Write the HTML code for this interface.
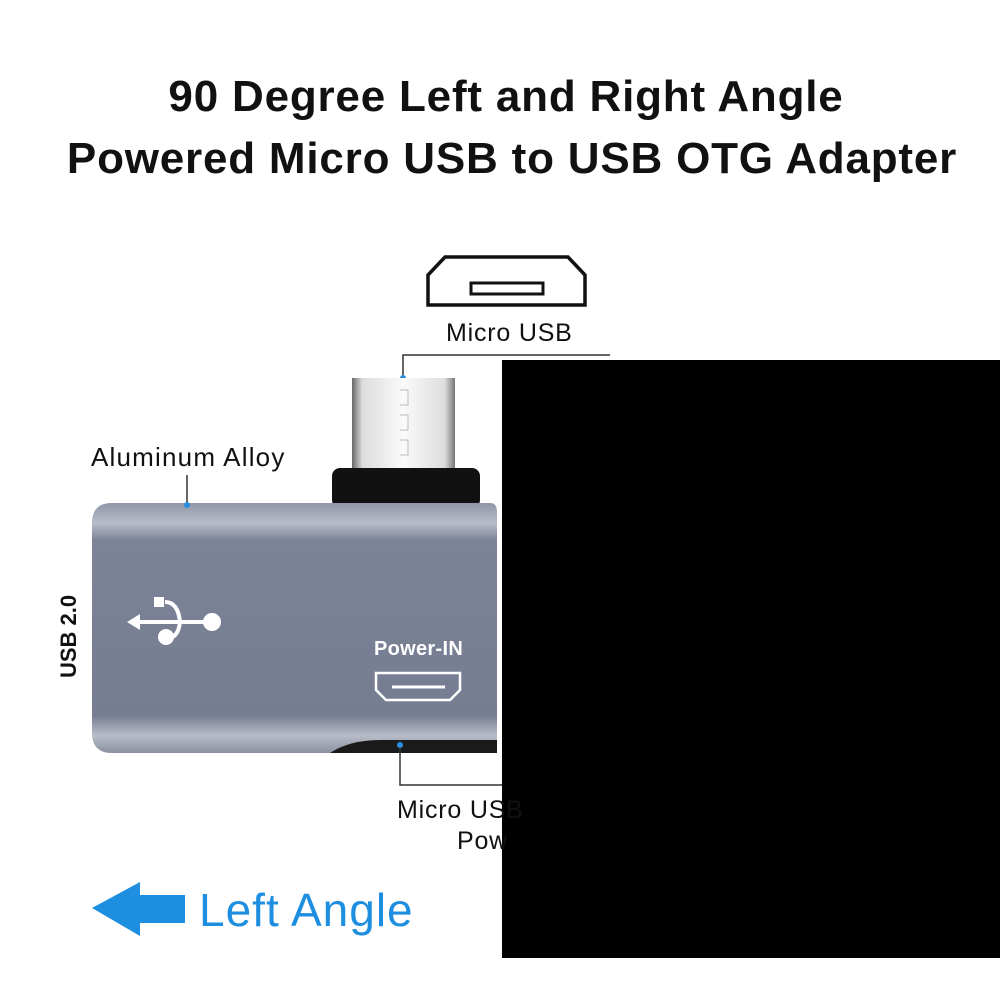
<!DOCTYPE html>
<html><head><style>
body{margin:0;width:1000px;height:1000px;background:#fff;position:relative;overflow:hidden;font-family:"Liberation Sans","DejaVu Sans",sans-serif}
.t{position:absolute;left:0;width:1000px;text-align:center;font-weight:bold;font-size:44px;letter-spacing:0.8px;color:#111}
.a{position:absolute;font-size:25px;letter-spacing:0.8px;color:#111}
</style></head><body>
<div class="t" style="top:72px;left:6px">90 Degree Left and Right Angle</div>
<div class="t" style="top:134px;left:12px">Powered Micro USB to USB OTG Adapter</div>
<svg width="1000" height="1000" style="position:absolute;left:0;top:0">
<defs>
<linearGradient id="g" x1="0" y1="0" x2="0" y2="1">
<stop offset="0" stop-color="#8f96a6"/><stop offset="0.08" stop-color="#b7bcc8"/><stop offset="0.15" stop-color="#7c8397"/><stop offset="0.85" stop-color="#767d92"/><stop offset="0.93" stop-color="#b9bdc8"/><stop offset="1" stop-color="#8a90a0"/></linearGradient>
<linearGradient id="m" x1="0" y1="0" x2="1" y2="0">
<stop offset="0" stop-color="#666"/><stop offset="0.1" stop-color="#ddd"/><stop offset="0.5" stop-color="#fafafa"/><stop offset="0.9" stop-color="#ddd"/><stop offset="1" stop-color="#777"/></linearGradient>
</defs>
<path d="M428 305 L428 275 L445 257 L568 257 L585 275 L585 305 Z" fill="none" stroke="#111" stroke-width="3.5"/>
<rect x="471" y="283" width="72" height="11" fill="none" stroke="#111" stroke-width="3"/>
<polyline points="403,378 403,355 610,355" fill="none" stroke="#333" stroke-width="1.5"/>
<circle cx="403" cy="378" r="3" fill="#2a8ee0"/>
<rect x="352" y="378" width="103" height="92" fill="url(#m)"/>
<path d="M400 390 h8 v15 h-8 M400 415 h8 v15 h-8 M400 440 h8 v15 h-8" fill="none" stroke="#bbb" stroke-width="1"/>
<rect x="332" y="468" width="148" height="40" rx="8" fill="#111"/>
<path d="M112 503 H490 Q497 503 497 512 V753 H112 Q92 753 92 733 V523 Q92 503 112 503Z" fill="url(#g)"/>
<path d="M330 753 Q350 740 380 740 H497 V753Z" fill="#1a1a1a"/>
<line x1="187" y1="475" x2="187" y2="505" stroke="#333" stroke-width="1.5"/>
<circle cx="187" cy="505" r="3" fill="#2a8ee0"/>
<polyline points="400,745 400,785 510,785" fill="none" stroke="#333" stroke-width="1.5"/>
<circle cx="400" cy="745" r="3" fill="#2a8ee0"/>
<g fill="#fff" stroke="#fff">
<line x1="135" y1="622" x2="210" y2="622" stroke-width="4"/>
<polygon points="127,622 140,614 140,630" stroke="none"/>
<circle cx="212" cy="622" r="9" stroke="none"/>
<rect x="154" y="597" width="10" height="10" stroke="none"/>
<path d="M165 602 Q178 602 180 622" fill="none" stroke-width="4"/>
<path d="M180 622 Q178 638 168 638" fill="none" stroke-width="4"/>
<circle cx="166" cy="637" r="8" stroke="none"/>
</g>
<path d="M376 673 H460 V690 L450 700 H386 L376 690 Z" fill="none" stroke="#fff" stroke-width="2.5"/>
<line x1="392" y1="687" x2="445" y2="687" stroke="#fff" stroke-width="3"/>
<polygon points="92,908 140,882 140,895 185,895 185,923 140,923 140,936" fill="#1e8ee0"/>
<rect x="502" y="360" width="498" height="598" fill="#000"/>
</svg>
<div class="a" style="left:446px;top:319px">Micro USB</div>
<div class="a" style="left:91px;top:442px;font-size:26px;letter-spacing:1.2px">Aluminum Alloy</div>
<div class="a" style="left:56px;top:678px;transform:rotate(-90deg);transform-origin:0 0;font-weight:bold;font-size:22px;letter-spacing:0">USB 2.0</div>
<div class="a" style="left:374px;top:638px;color:#fff;font-weight:bold;font-size:20px;letter-spacing:0.3px">Power-IN</div>
<div class="a" style="left:397px;top:796px">Micro USB</div>
<div class="a" style="left:457px;top:827px">Pow</div>
<div style="position:absolute;left:199px;top:883px;font-size:46px;letter-spacing:1px;color:#1e8ee0">Left Angle</div>
</body></html>
